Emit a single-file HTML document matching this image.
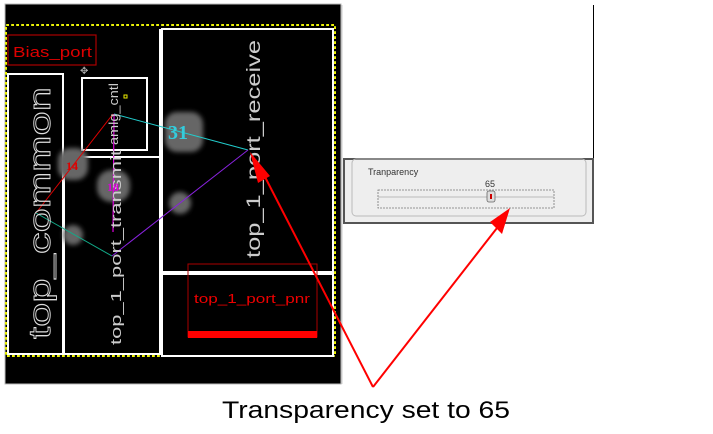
<!DOCTYPE html>
<html><head><style>
html,body{margin:0;padding:0;background:#fff;width:713px;height:434px;overflow:hidden}
</style></head><body>
<svg width="713" height="434" viewBox="0 0 713 434" xmlns="http://www.w3.org/2000/svg" font-family="Liberation Sans, sans-serif">
<defs>
<filter id="bl" x="-50%" y="-50%" width="200%" height="200%"><feGaussianBlur stdDeviation="2.5"/></filter>
</defs>
<rect x="5" y="4" width="336" height="380" fill="#000" stroke="#bbb" stroke-width="1"/>
<line x1="342" y1="5" x2="342" y2="384" stroke="#ccc" stroke-width="1"/>
<line x1="593.5" y1="5" x2="593.5" y2="158" stroke="#000" stroke-width="1"/>
<rect x="6" y="25" width="329" height="331" fill="none" stroke="#ee0" stroke-width="2" stroke-dasharray="3,2"/>
<rect x="6" y="25" width="329" height="331" fill="none" stroke="#066" stroke-width="0.6" stroke-dasharray="1,4"/>
<g fill="none" stroke="#fff" stroke-width="2">
<rect x="8" y="74" width="55" height="280"/>
<rect x="64" y="157" width="96" height="197"/>
<rect x="82" y="78" width="65" height="72"/>
<rect x="162" y="29" width="171" height="243"/>
<polyline points="160,29 160,157"/>
<rect x="162" y="274" width="171" height="82"/>
</g>
<g fill="#666" filter="url(#bl)">
<rect x="165" y="112" width="38" height="40" rx="12"/>
<rect x="58" y="148" width="30" height="32" rx="12"/>
<rect x="97" y="170" width="33" height="32" rx="14"/>
<circle cx="180" cy="203" r="11"/>
<circle cx="73" cy="235" r="10"/>
</g>
<polyline points="36,213 113,114" stroke="#d00" stroke-width="1" fill="none"/>
<polyline points="114,114 248,150" stroke="#2cc" stroke-width="1" fill="none"/>
<polyline points="114,114 113,232" stroke="#d0d" stroke-width="1.2" fill="none"/>
<polyline points="36,213 112,256" stroke="#1a8" stroke-width="1" fill="none"/>
<polyline points="112,256 248,150" stroke="#82d" stroke-width="1" fill="none"/>
<rect x="8" y="35" width="88" height="30" fill="none" stroke="#a00" stroke-width="1.2"/>
<text x="13" y="57" fill="#d00" font-size="15" textLength="79" lengthAdjust="spacingAndGlyphs">Bias_port</text>
<text transform="translate(50,339) rotate(-90)" fill="none" stroke="#ddd" stroke-width="0.9" font-size="31" textLength="252" lengthAdjust="spacingAndGlyphs">top_common</text>
<text transform="translate(121,345) rotate(-90)" fill="#ccc" font-size="15" textLength="195" lengthAdjust="spacingAndGlyphs">top_1_port_transmit</text>
<text transform="translate(118,145) rotate(-90)" fill="#ccc" font-size="13" textLength="62" lengthAdjust="spacingAndGlyphs">amlg_cntl</text>
<text transform="translate(260,258) rotate(-90)" fill="#ccc" font-size="19" textLength="218" lengthAdjust="spacingAndGlyphs">top_1_port_receive</text>
<rect x="124" y="95" width="3" height="3" fill="none" stroke="#ee0" stroke-width="1"/>
<text x="168" y="139" fill="#3cd" font-size="20" font-weight="bold" font-family="Liberation Serif, serif">31</text>
<text x="66" y="170" fill="#d00" font-size="12" font-weight="bold" font-family="Liberation Serif, serif">14</text>
<text x="107" y="191" fill="#d0d" font-size="12" font-weight="bold" font-family="Liberation Serif, serif">18</text>
<text x="80" y="74" fill="#aaa" font-size="10">✥</text>
<rect x="188" y="264" width="129" height="73" fill="none" stroke="#a00" stroke-width="1"/>
<rect x="188" y="331" width="129" height="7" fill="#f00"/>
<text x="194" y="303" fill="#e00" font-size="13" textLength="116" lengthAdjust="spacingAndGlyphs">top_1_port_pnr</text>
<rect x="344" y="159" width="249" height="64" fill="#eee" stroke="#555" stroke-width="2"/>
<rect x="352" y="159" width="234" height="57" rx="4" fill="none" stroke="#bbb" stroke-width="1"/>
<text x="368" y="175" fill="#333" font-size="9">Tranparency</text>
<text x="485" y="187" fill="#333" font-size="9">65</text>
<rect x="378" y="190" width="176" height="18" fill="none" stroke="#777" stroke-width="0.8" stroke-dasharray="2,1"/>
<line x1="378" y1="197" x2="554" y2="197" stroke="#aaa" stroke-width="0.8"/>
<rect x="487" y="191" width="8" height="11" rx="2" fill="#ddd" stroke="#666" stroke-width="0.8"/>
<rect x="490" y="194" width="2" height="5" fill="#c00"/>
<g stroke="#f00" stroke-width="2" fill="none">
<line x1="373" y1="387" x2="264" y2="175"/>
<line x1="373" y1="387" x2="497" y2="228"/>
</g>
<polygon points="250,152 270,176 258,183" fill="#f00"/>
<polygon points="510,208 490,222 502,234" fill="#f00"/>
<text x="222" y="418" fill="#000" font-size="24" textLength="288" lengthAdjust="spacingAndGlyphs">Transparency set to 65</text>
</svg>
</body></html>
